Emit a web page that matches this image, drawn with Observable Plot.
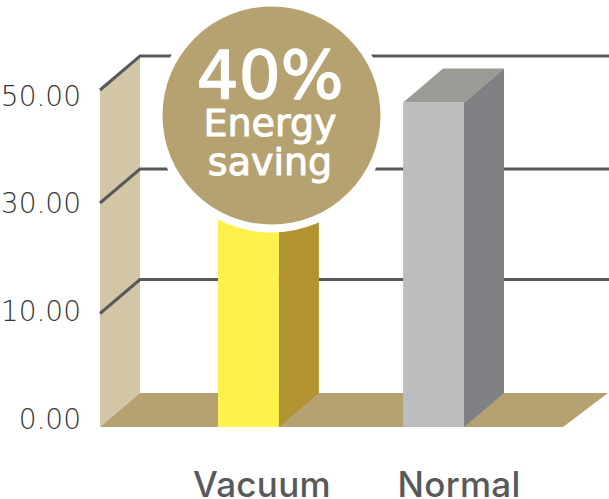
<!DOCTYPE html>
<html><head><meta charset="utf-8">
<script src="https://cdn.jsdelivr.net/npm/d3@7"></script>
<script src="https://cdn.jsdelivr.net/npm/@observablehq/plot@0.6"></script>
<style>html,body{margin:0;padding:0;background:#fff}svg{display:block}</style>
</head><body><div id="chart"></div>
<script>
const categories = ["Vacuum", "Normal"];
const values = [28.7, 47.8];
const yTicks = [0, 10, 30, 50];
const gridTicks = [10, 30, 50];
const frontColors = ["#fff04b", "#bcbdbf"];
const sideColors = ["#b29332", "#808184"];
const topColors = ["#c9b040", "#9c9a94"];
const bars = categories.map((c, i) => ({c, v: values[i], front: frontColors[i], side: sideColors[i], top: topColors[i]}));

const DX = 40, DY = -34, WALL_X = 100, FLOOR_W = 463, RIGHT = 609;
const font = "Inter, 'Open Sans', sans-serif";
const wide = "'DejaVu Sans', sans-serif";
const NS = "http://www.w3.org/2000/svg";
const ink = "#58595b";

function face(kind) {
  return (index, scales, vals, dims, ctx, next) => {
    const g = next(index, scales, vals, dims, ctx);
    g.querySelectorAll("rect").forEach(r => {
      const x = +r.getAttribute("x"), y = +r.getAttribute("y"), w = +r.getAttribute("width"), h = +r.getAttribute("height");
      const pts = kind === "side"
        ? [[x + w, y], [x + w + DX, y + DY], [x + w + DX, y + h + DY], [x + w, y + h]]
        : [[x, y], [x + w, y], [x + w + DX, y + DY], [x + DX, y + DY]];
      const p = document.createElementNS(NS, "polygon");
      p.setAttribute("points", pts.join(" "));
      p.setAttribute("fill", r.getAttribute("fill"));
      r.replaceWith(p);
    });
    return g;
  };
}

const spaced = px => (index, scales, vals, dims, ctx, next) => {
  const g = next(index, scales, vals, dims, ctx);
  g.setAttribute("letter-spacing", px);
  return g;
};

const room = (index, {y}) => {
  const s = d3.create("svg:g");
  const y0 = y(0), yTop = y(50);
  s.append("polygon").attr("fill", "#d3c6a6").attr("points",
    [[WALL_X, yTop], [WALL_X + DX, yTop + DY], [WALL_X + DX, y0 + DY], [WALL_X, y0]].join(" "));
  s.append("polygon").attr("fill", "#b6a270").attr("points",
    [[WALL_X, y0], [WALL_X + FLOOR_W, y0], [WALL_X + FLOOR_W + DX + 5, y0 + DY], [WALL_X + DX, y0 + DY]].join(" "));
  return s.node();
};

const grid = (index, {y}) => {
  const s = d3.create("svg:g").attr("fill", "none").attr("stroke", ink).attr("stroke-width", 3);
  gridTicks.forEach(t => {
    s.append("polyline").attr("points",
      [[WALL_X, y(t)], [WALL_X + DX, y(t) + DY], [RIGHT, y(t) + DY]].join(" "));
  });
  return s.node();
};

const tickNudge = {0: -7, 10: -1.5, 30: 1, 50: 6.5};
const badgeText = (text, dy, size, sw) => Plot.text([text], {
  text: d => d, frameAnchor: "top-left", dx: 269.5, dy, fontSize: size,
  fill: "#fff", stroke: "#fff", strokeWidth: sw, fontFamily: wide, textAnchor: "middle", lineAnchor: "middle"
});
const catLabel = (name, dx) => Plot.text([name], {
  x: d => d, text: d => d, dx, frameAnchor: "bottom", dy: -3, fontSize: 35, fontWeight: 500,
  fill: ink, fontFamily: font, render: spaced(0.3)
});

const chart = Plot.plot({
  width: 609, height: 499,
  marginTop: 0, marginRight: 0, marginBottom: 0, marginLeft: 0,
  x: {type: "band", domain: categories, range: [218, 464], paddingInner: 0.671, paddingOuter: 0, round: false, axis: null},
  y: {type: "linear", domain: yTicks, range: [427, 313.5, 203, 90], axis: null},
  style: {background: "#fff", overflow: "hidden"},
  marks: [
    room,
    grid,
    Plot.barY(bars, {x: "c", y: "v", fill: d => d.top, render: face("top")}),
    Plot.barY(bars, {x: "c", y: "v", fill: d => d.side, render: face("side")}),
    Plot.barY(bars, {x: "c", y: "v", fill: d => d.front}),
    ...yTicks.map(t => Plot.text([t], {
      y: d => d, text: d => d3.format(".2f")(d), frameAnchor: "left", textAnchor: "end",
      dx: 80.5, dy: tickNudge[t], fontSize: 28, fontWeight: 200, fill: "#333436", fontFamily: wide
    })),
    catLabel("Vacuum", 13),
    catLabel("Normal", 25),
    Plot.dot([0], {frameAnchor: "top-left", dx: 271, dy: 115, r: 117, fill: "#fff", stroke: "none"}),
    Plot.dot([0], {frameAnchor: "top-left", dx: 271, dy: 115, r: 109, fill: "#b6a270", stroke: "none"}),
    badgeText("40%", 75.9, 66, 1.6),
    badgeText("Energy", 123.8, 38, 1),
    badgeText("saving", 162.8, 38, 1)
  ]
});
document.getElementById("chart").append(chart);
</script></body></html>
